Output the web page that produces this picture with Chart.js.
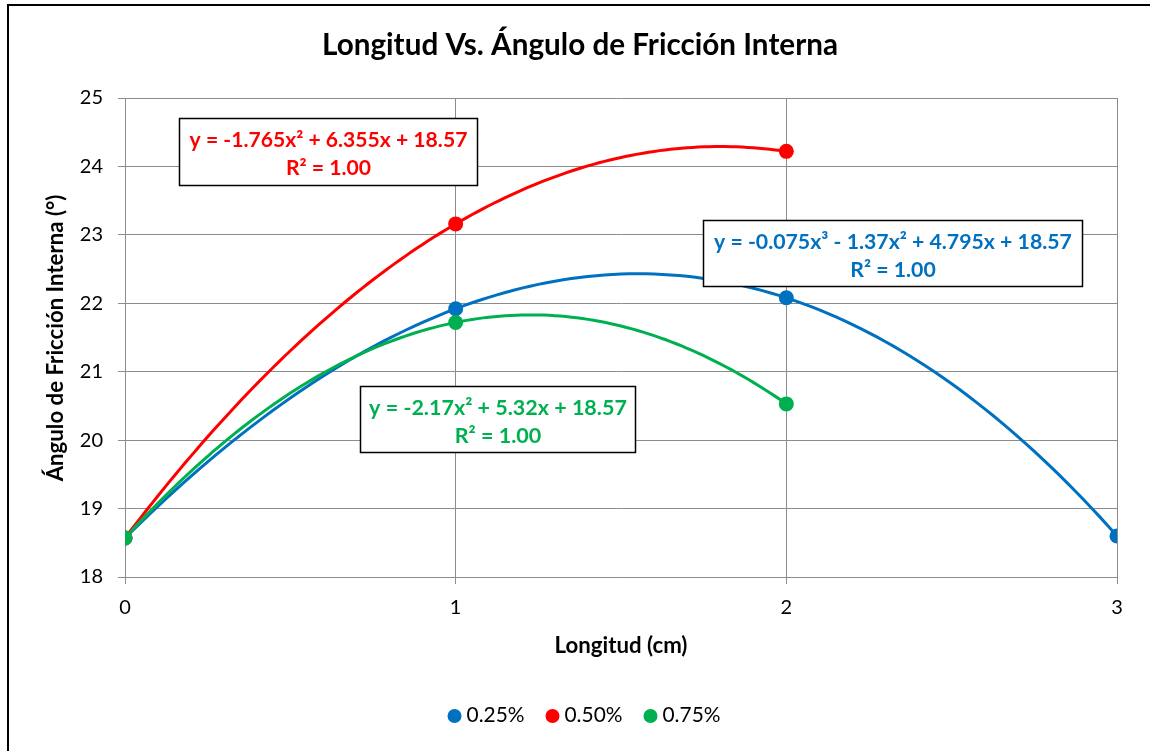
<!DOCTYPE html>
<html>
<head>
<meta charset="utf-8">
<script src="https://cdn.jsdelivr.net/npm/chart.js@4.4.1/dist/chart.umd.min.js"></script>
<style>
  html, body { margin: 0; padding: 0; background: #ffffff; }
  #wrap { width: 1150px; height: 751px; }
</style>
</head>
<body>
<div id="wrap"><canvas id="c" width="1150" height="751"></canvas></div>
<script>
// Measured friction angle per specimen length, one series per additive dosage
const seriesLabels = ['0.25%', '0.50%', '0.75%'];
const seriesColors = ['#0070C0', '#FF0000', '#00B050'];

const lengths025 = [0, 1, 2, 3];
const angles025 = [18.57, 21.92, 22.08, 18.60];

const lengths050 = [0, 1, 2];
const angles050 = [18.57, 23.16, 24.22];

const lengths075 = [0, 1, 2];
const angles075 = [18.57, 21.72, 20.53];

// Polynomial trend line coefficients, constant term first
const trend025 = [18.57, 4.795, -1.37, -0.075];
const trend050 = [18.57, 6.355, -1.765];
const trend075 = [18.57, 5.32, -2.17];

// Trend line equations as printed in the boxes
const trendText025 = ['y = -0.075x³ - 1.37x² + 4.795x + 18.57', 'R² = 1.00'];
const trendText050 = ['y = -1.765x² + 6.355x + 18.57', 'R² = 1.00'];
const trendText075 = ['y = -2.17x² + 5.32x + 18.57', 'R² = 1.00'];

const xTicks = [0, 1, 2, 3];
const yTicks = [18, 19, 20, 21, 22, 23, 24, 25];

const chartTitle = 'Longitud Vs. Ángulo de Fricción Interna';
const xTitle = 'Longitud (cm)';
const yTitle = 'Ángulo de Fricción Interna (°)';

const FONT = 'Lato, "Open Sans", sans-serif';

function toPoints(xs, ys) { return xs.map((x, i) => ({ x: x, y: ys[i] })); }

function polyCurve(coef, xMin, xMax) {
  const pts = [];
  const steps = 120;
  for (let i = 0; i <= steps; i++) {
    const x = xMin + (xMax - xMin) * i / steps;
    let y = 0;
    for (let k = coef.length - 1; k >= 0; k--) y = y * x + coef[k];
    pts.push({ x: x, y: y });
  }
  return pts;
}

function trendDataset(coef, xs, color, order) {
  return {
    label: '', isTrend: true,
    data: polyCurve(coef, xs[0], xs[xs.length - 1]),
    showLine: true, borderColor: color, borderWidth: 3,
    pointRadius: 0, pointHoverRadius: 0, fill: false, order: order
  };
}

function pointDataset(label, xs, ys, color, order) {
  return {
    label: label,
    data: toPoints(xs, ys),
    showLine: false, backgroundColor: color, borderColor: color,
    pointRadius: 7.5, pointHoverRadius: 7.5, pointBorderWidth: 0, order: order
  };
}

const datasets = [
  pointDataset(seriesLabels[0], lengths025, angles025, seriesColors[0], 3),
  pointDataset(seriesLabels[1], lengths050, angles050, seriesColors[1], 2),
  pointDataset(seriesLabels[2], lengths075, angles075, seriesColors[2], 1),
  trendDataset(trend025, lengths025, seriesColors[0], 6),
  trendDataset(trend050, lengths050, seriesColors[1], 5),
  trendDataset(trend075, lengths075, seriesColors[2], 4)
];

// Equation boxes: top-left corner in data units, size in pixels
const equationBoxes = [
  { lines: trendText050, color: seriesColors[1], x: 0.162, y: 24.704, w: 298, h: 67, textW: 278 },
  { lines: trendText025, color: seriesColors[0], x: 1.747, y: 23.215, w: 379, h: 66, textW: 358 },
  { lines: trendText075, color: seriesColors[2], x: 0.710, y: 20.791, w: 275, h: 66, textW: 258 }
];

// Pick a font size so that text spans the wanted width
function fitFont(ctx, text, weight, width) {
  ctx.font = weight + ' 20px ' + FONT;
  const w = ctx.measureText(text).width;
  return 20 * width / w;
}

const decorPlugin = {
  id: 'decor',
  beforeDraw(chart) {
    const ctx = chart.ctx;
    ctx.save();
    ctx.fillStyle = '#ffffff';
    ctx.fillRect(0, 0, chart.width, chart.height);
    ctx.strokeStyle = '#000000';
    ctx.lineWidth = 2;
    ctx.strokeRect(8, 5, chart.width + 20, chart.height + 20);
    ctx.restore();
  },
  afterDraw(chart) {
    const ctx = chart.ctx;
    const xs = chart.scales.x, ys = chart.scales.y;
    ctx.save();
    ctx.fillStyle = '#000000';
    ctx.textAlign = 'center';
    ctx.textBaseline = 'alphabetic';
    // Title
    let size = fitFont(ctx, chartTitle, 'bold', 516);
    ctx.font = 'bold ' + size + 'px ' + FONT;
    ctx.fillText(chartTitle, 580, 55);
    // Axis titles
    size = fitFont(ctx, xTitle, 'bold', 133);
    ctx.font = 'bold ' + size + 'px ' + FONT;
    ctx.fillText(xTitle, 621, 653);
    ctx.save();
    ctx.translate(63, 338);
    ctx.rotate(-Math.PI / 2);
    ctx.fillText(yTitle, 0, 0);
    ctx.restore();
    // Equation boxes
    equationBoxes.forEach(b => {
      const left = Math.round(xs.getPixelForValue(b.x)) + 0.5;
      const top = Math.round(ys.getPixelForValue(b.y)) + 0.5;
      ctx.fillStyle = '#ffffff';
      ctx.fillRect(left, top, b.w, b.h);
      ctx.strokeStyle = '#000000';
      ctx.lineWidth = 1.5;
      ctx.strokeRect(left, top, b.w, b.h);
      const fs = fitFont(ctx, b.lines[0], 'bold', b.textW);
      ctx.fillStyle = b.color;
      ctx.font = 'bold ' + fs + 'px ' + FONT;
      ctx.fillText(b.lines[0], left + b.w / 2, top + 28);
      ctx.fillText(b.lines[1], left + b.w / 2, top + 56);
    });
    // Legend
    const pointSets = chart.data.datasets.filter(d => !d.isTrend);
    size = fitFont(ctx, pointSets[0].label, 'normal', 58);
    ctx.font = size + 'px ' + FONT;
    ctx.textAlign = 'left';
    const gap = 21, dotR = 7, dotGap = 5;
    const widths = pointSets.map(d => dotR * 2 + dotGap + ctx.measureText(d.label).width);
    const total = widths.reduce((a, b) => a + b, 0) + gap * (widths.length - 1);
    let cx = 584 - total / 2;
    const ly = 716;
    pointSets.forEach((d, i) => {
      ctx.fillStyle = d.backgroundColor;
      ctx.beginPath();
      ctx.arc(cx + dotR, ly, dotR, 0, Math.PI * 2);
      ctx.fill();
      ctx.fillStyle = '#000000';
      ctx.fillText(d.label, cx + dotR * 2 + dotGap, 722);
      cx += widths[i] + gap;
    });
    ctx.restore();
  }
};

new Chart(document.getElementById('c'), {
  type: 'scatter',
  data: { datasets: datasets },
  plugins: [decorPlugin],
  options: {
    responsive: false,
    animation: false,
    events: [],
    layout: { padding: { left: 0, top: 98, right: 33, bottom: 0 } },
    plugins: { legend: { display: false }, title: { display: false }, tooltip: { enabled: false } },
    elements: { line: { tension: 0 } },
    scales: {
      x: {
        type: 'linear', min: 0, max: 3,
        afterFit(s) { s.height = 174; },
        afterBuildTicks(s) { s.ticks = xTicks.map(v => ({ value: v })); },
        grid: { color: '#8c8c8c', lineWidth: 1, tickLength: 7, drawTicks: true },
        border: { color: '#8c8c8c', width: 1 },
        ticks: { color: '#000000', padding: 12, font: { family: FONT, size: 20 } }
      },
      y: {
        type: 'linear', min: 18, max: 25,
        afterFit(s) { s.width = 125; },
        afterBuildTicks(s) { s.ticks = yTicks.map(v => ({ value: v })); },
        grid: { color: '#8c8c8c', lineWidth: 1, tickLength: 7, drawTicks: true },
        border: { color: '#8c8c8c', width: 1 },
        ticks: { color: '#000000', padding: 15, font: { family: FONT, size: 20 } }
      }
    }
  }
});
</script>
</body>
</html>
